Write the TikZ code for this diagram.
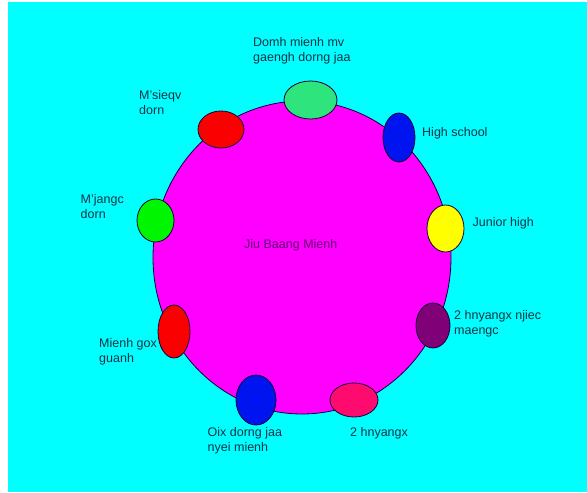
\documentclass[tikz,border=0pt]{standalone}
\usepackage{fontspec}
\setmainfont{Liberation Sans}
\usetikzlibrary{shapes.geometric}
\definecolor{bgcyan}{RGB}{0,255,255}
\definecolor{bigmag}{RGB}{255,0,255}
\definecolor{springc}{RGB}{45,228,125}
\definecolor{redc}{RGB}{250,0,0}
\definecolor{bluec}{RGB}{0,20,240}
\definecolor{greenc}{RGB}{0,245,0}
\definecolor{yellowc}{RGB}{255,255,0}
\definecolor{purplec}{RGB}{128,0,120}
\definecolor{pinkc}{RGB}{255,10,110}
\definecolor{labelc}{RGB}{20,50,70}
\definecolor{innerc}{RGB}{100,0,115}
\definecolor{edgec}{RGB}{20,0,50}
\tikzset{
  blob/.style={ellipse, draw=edgec, line width=0.8pt, inner sep=0pt},
  lbl/.style={font=\fontsize{12.5}{15.5}\selectfont, text=labelc, inner sep=0pt, anchor=north west, align=left}
}
\begin{document}
\begin{tikzpicture}[x=1pt,y=-1pt]
\useasboundingbox (0,0) rectangle (587,493);
\fill[white] (0,0) rectangle (587,493);
\fill[bgcyan] (8,2) rectangle (587,492);
% big circle
\node[ellipse, draw=edgec, line width=0.8pt, fill=bigmag, minimum width=298pt, minimum height=313pt, inner sep=0pt] (main) at (302,257.5) {};
\node[lbl, text=innerc] (mainlbl) at (244,238.9) {Jiu Baang Mienh};
% small ellipses
\node[blob, fill=springc, minimum width=53pt, minimum height=38pt] (e1) at (310.5,100) {};
\node[blob, fill=redc, minimum width=46pt, minimum height=37pt] (e2) at (221,129.5) {};
\node[blob, fill=bluec, minimum width=32pt, minimum height=49pt] (e3) at (399,137.5) {};
\node[blob, fill=greenc, minimum width=37pt, minimum height=43pt] (e4) at (155.5,220.5) {};
\node[blob, fill=yellowc, minimum width=37pt, minimum height=47pt] (e5) at (445.5,228.5) {};
\node[blob, fill=purplec, minimum width=34pt, minimum height=45pt] (e6) at (433,325.5) {};
\node[blob, fill=redc, minimum width=32pt, minimum height=53pt] (e7) at (174,331.5) {};
\node[blob, fill=bluec, minimum width=40pt, minimum height=50pt] (e8) at (256,400) {};
\node[blob, fill=pinkc, minimum width=48pt, minimum height=34pt] (e9) at (354,400) {};
% labels
\node[lbl] (l1) at (253,36.9) {Domh mienh mv\\gaengh dorng jaa};
\node[lbl] (l2) at (139,89.9) {M'sieqv\\dorn};
\node[lbl] (l3) at (422,127.6) {High school};
\node[lbl] (l4) at (80.5,193.9) {M'jangc\\dorn};
\node[lbl] (l5) at (472.5,216.9) {Junior high};
\node[lbl] (l6) at (454,309.9) {2 hnyangx njiec\\maengc};
\node[lbl] (l7) at (99,337.9) {Mienh gox\\guanh};
\node[lbl] (l8) at (207.5,426.9) {Oix dorng jaa\\nyei mienh};
\node[lbl] (l9) at (350,426.9) {2 hnyangx};
\end{tikzpicture}
\end{document}
